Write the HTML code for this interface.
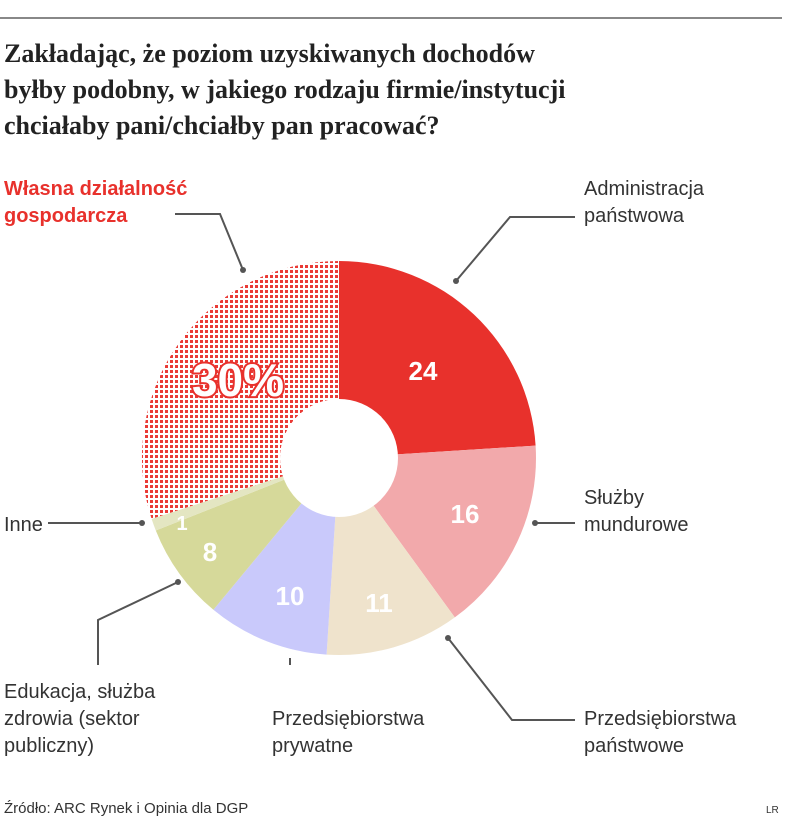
<!DOCTYPE html>
<html><head><meta charset="utf-8"><style>
body{margin:0;background:#fff;width:805px;height:822px;overflow:hidden;font-family:"Liberation Sans",sans-serif}
</style></head><body>
<svg width="805" height="822" viewBox="0 0 805 822" xmlns="http://www.w3.org/2000/svg">
<defs>
<pattern id="dots" width="5" height="5" patternUnits="userSpaceOnUse">
<rect width="5" height="5" fill="#fff"/>
<rect x="0" y="0" width="3" height="3" fill="#ea3a35"/>
</pattern>
</defs>
<line x1="0" y1="18" x2="782" y2="18" stroke="#888" stroke-width="2"/>
<g font-family="Liberation Serif, serif" font-weight="bold" font-size="26" fill="#222">
<text x="4" y="62">Zakładając, że poziom uzyskiwanych dochodów</text>
<text x="4" y="98">byłby podobny, w jakiego rodzaju firmie/instytucji</text>
<text x="4" y="134">chciałaby pani/chciałby pan pracować?</text>
</g>
<g>
<path d="M339,458 L339,261 A197,197 0 0 1 535.6,445.6 Z" fill="#e8312c"/>
<path d="M339,458 L535.6,445.6 A197,197 0 0 1 454.8,617.4 Z" fill="#f2a9ab"/>
<path d="M339,458 L454.8,617.4 A197,197 0 0 1 326.6,654.6 Z" fill="#efe3cc"/>
<path d="M339,458 L326.6,654.6 A197,197 0 0 1 213.4,609.8 Z" fill="#c9c9fb"/>
<path d="M339,458 L213.4,609.8 A197,197 0 0 1 155.8,530.5 Z" fill="#d6d99a"/>
<path d="M339,458 L155.8,530.5 A197,197 0 0 1 151.6,518.9 Z" fill="#e4e6c2"/>
<path d="M339,458 L151.6,518.9 A197,197 0 0 1 339,261 Z" fill="url(#dots)"/>
</g>
<circle cx="339" cy="458" r="59" fill="#fff"/>
<g fill="#fff" font-weight="bold" font-size="26" text-anchor="middle">
<text x="423" y="380">24</text>
<text x="465" y="523">16</text>
<text x="379" y="612">11</text>
<text x="290" y="605">10</text>
<text x="210" y="561">8</text>
<text x="182" y="530" font-size="20">1</text>
<text x="238" y="396" font-size="46" stroke="#e8312c" stroke-width="4" paint-order="stroke">30%</text>
</g>
<g stroke="#555" stroke-width="2" fill="none">
<polyline points="175,214 220,214 243,270"/>
<polyline points="575,217 510,217 456,281"/>
<polyline points="575,523 535,523"/>
<polyline points="48,523 142,523"/>
<polyline points="98,665 98,620 178,582"/>
<polyline points="290,665 290,658"/>
<polyline points="575,720 512,720 448,638"/>
</g>
<g fill="#555"><circle cx="243" cy="270" r="3"/><circle cx="456" cy="281" r="3"/><circle cx="535" cy="523" r="3"/><circle cx="142" cy="523" r="3"/><circle cx="178" cy="582" r="3"/><circle cx="448" cy="638" r="3"/></g>
<g font-size="20" fill="#333">
<text x="4" y="195" fill="#e8312c" font-weight="bold">Własna działalność</text>
<text x="4" y="222" fill="#e8312c" font-weight="bold">gospodarcza</text>
<text x="584" y="195">Administracja</text>
<text x="584" y="222">państwowa</text>
<text x="584" y="504">Służby</text>
<text x="584" y="531">mundurowe</text>
<text x="4" y="531">Inne</text>
<text x="4" y="698">Edukacja, służba</text>
<text x="4" y="725">zdrowia (sektor</text>
<text x="4" y="752">publiczny)</text>
<text x="272" y="725">Przedsiębiorstwa</text>
<text x="272" y="752">prywatne</text>
<text x="584" y="725">Przedsiębiorstwa</text>
<text x="584" y="752">państwowe</text>
<text x="4" y="813" font-size="15">Źródło: ARC Rynek i Opinia dla DGP</text>
<text x="766" y="813" font-size="10">LR</text>
</g>
</svg>
</body></html>
